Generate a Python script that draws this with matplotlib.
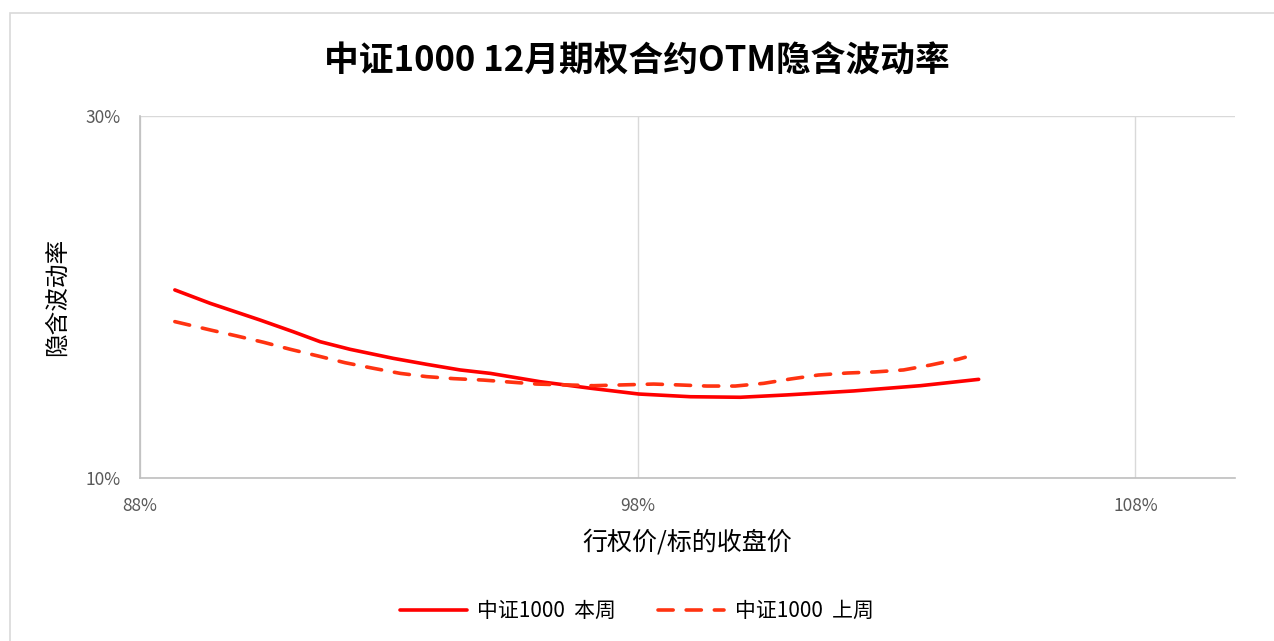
import matplotlib
matplotlib.use("Agg")
import matplotlib.pyplot as plt
from matplotlib.patches import Rectangle
from matplotlib.ticker import FuncFormatter

plt.rcParams['font.family'] = ['Noto Sans CJK SC', 'DejaVu Sans']

# moneyness (strike / underlying close, %) and implied vol (%)
x_this = [88.70, 89.41, 90.41, 91.08, 91.62, 92.22, 93.09, 93.76, 94.43, 95.04,
          96.04, 97.05, 98.02, 99.06, 100.06, 101.00, 102.34, 103.68, 104.85]
iv_this = [20.39, 19.65, 18.73, 18.08, 17.53, 17.11, 16.61, 16.28, 15.97, 15.78,
           15.32, 14.96, 14.64, 14.49, 14.46, 14.59, 14.81, 15.10, 15.45]

x_last = [88.70, 89.41, 89.94, 90.48, 91.02, 91.58, 92.12, 92.69, 93.23, 93.76,
          94.30, 94.90, 95.97, 97.11, 97.78, 98.32, 98.85, 99.39, 99.96, 100.53,
          101.07, 101.63, 102.21, 102.77, 103.34, 103.88, 104.45, 104.58]
iv_last = [18.64, 18.18, 17.85, 17.50, 17.11, 16.74, 16.37, 16.06, 15.78, 15.60,
           15.49, 15.41, 15.19, 15.10, 15.15, 15.19, 15.14, 15.08, 15.08, 15.23,
           15.47, 15.69, 15.80, 15.86, 15.97, 16.24, 16.57, 16.67]

x_ticks = [88, 98, 108]
y_ticks = [10, 30]

fig = plt.figure(figsize=(12.74, 6.41), dpi=100)
ax = fig.add_axes([140/1274, 1 - 478/641, 1095/1274, 362/641])

# outer chart border
fig.patches.append(Rectangle((10/1274, -0.05), 1.2, 1 - 13/641 + 0.05,
                             transform=fig.transFigure, fill=False,
                             edgecolor='#d9d9d9', lw=1.2))

ax.plot(x_this, iv_this, color='#ff0000', lw=2.6, label='中证1000  本周',
        solid_capstyle='round', solid_joinstyle='round')
ax.plot(x_last, iv_last, color='#ff3311', lw=2.6, ls=(0, (4.2, 3.6)),
        label='中证1000  上周', dash_capstyle='round', dash_joinstyle='round')

ax.set_xlim(88, 110)
ax.set_ylim(10, 30)
ax.set_xticks(x_ticks)
ax.set_yticks(y_ticks)
ax.xaxis.set_major_formatter(FuncFormatter(lambda v, p: f'{v:.0f}%'))
ax.yaxis.set_major_formatter(FuncFormatter(lambda v, p: f'{v:.0f}%'))
ax.tick_params(length=0, labelsize=12.5, labelcolor='#595959')
ax.tick_params(axis='x', pad=14)
ax.tick_params(axis='y', pad=14)
ax.grid(True, color='#d9d9d9', lw=1)
ax.set_axisbelow(True)
for s in ['top', 'right']:
    ax.spines[s].set_visible(False)
for s in ['left', 'bottom']:
    ax.spines[s].set_color('#bfbfbf')
    ax.spines[s].set_linewidth(1.2)

ax.set_xlabel('行权价/标的收盘价', fontsize=18, labelpad=10)
ax.set_ylabel('隐含波动率', fontsize=17, labelpad=12)

fig.text(0.5, 1 - 60/641, '中证1000 12月期权合约OTM隐含波动率', ha='center',
         va='center', fontsize=25, fontweight='bold')

fig.legend(loc='center', bbox_to_anchor=(0.5, 1 - 611/641), ncol=2,
           frameon=False, fontsize=15, handlelength=3.2, handletextpad=0.5,
           columnspacing=2.0)

fig.savefig('out.png', dpi=100)
